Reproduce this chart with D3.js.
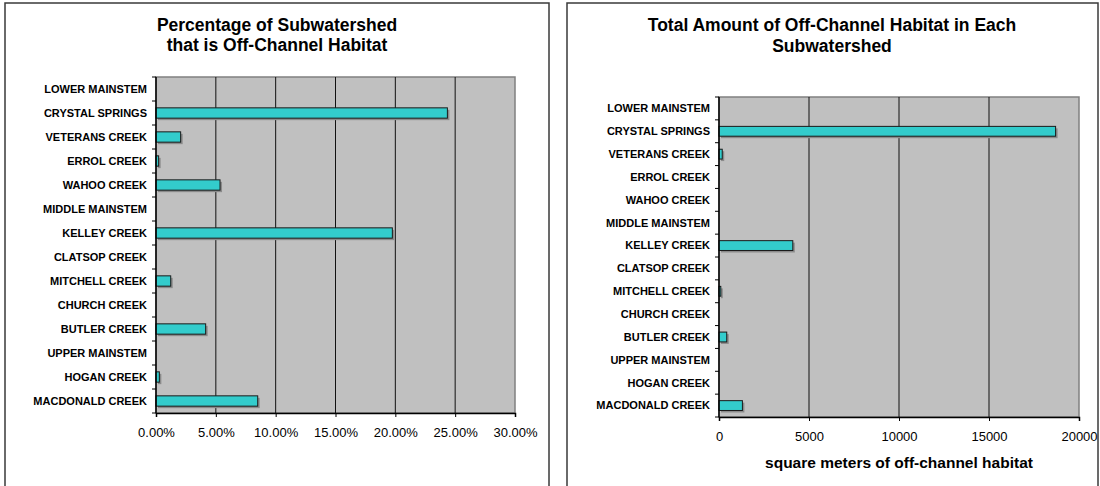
<!DOCTYPE html>
<html>
<head>
<meta charset="utf-8">
<script src="https://cdn.jsdelivr.net/npm/d3@7"></script>
<style>
  html, body { margin: 0; padding: 0; background: #fff; }
  svg { display: block; font-family: "Liberation Sans", Arial, sans-serif; }
</style>
</head>
<body>
<svg id="chart" width="1100" height="486"></svg>
<script>
// ---- data ----
const categories = [
  "LOWER MAINSTEM", "CRYSTAL SPRINGS", "VETERANS CREEK", "ERROL CREEK",
  "WAHOO CREEK", "MIDDLE MAINSTEM", "KELLEY CREEK", "CLATSOP CREEK",
  "MITCHELL CREEK", "CHURCH CREEK", "BUTLER CREEK", "UPPER MAINSTEM",
  "HOGAN CREEK", "MACDONALD CREEK"
];
// percent of subwatershed that is off-channel habitat (fraction)
const percentValues = [0, 0.2435, 0.0206, 0.0022, 0.0535, 0, 0.1975, 0, 0.0123, 0, 0.0415, 0, 0.0028, 0.085];
// square meters of off-channel habitat
const areaValues = [0, 18700, 180, 0, 0, 0, 4100, 0, 100, 0, 430, 0, 0, 1300];

const percentTicks = [0, 0.05, 0.10, 0.15, 0.20, 0.25, 0.30];
const areaTicks = [0, 5000, 10000, 15000, 20000];

const leftTitle = ["Percentage of Subwatershed", "that is Off-Channel Habitat"];
const rightTitle = ["Total Amount of Off-Channel Habitat in Each", "Subwatershed"];
const rightAxisTitle = "square meters of off-channel habitat";

// ---- drawing ----
const svg = d3.select("#chart");

function drawPanel(cfg) {
  const g = svg.append("g");
  // outer frame
  g.append("rect")
    .attr("x", cfg.frame[0]).attr("y", cfg.frame[1])
    .attr("width", cfg.frame[2]).attr("height", cfg.frame[3])
    .attr("fill", "#fff").attr("stroke", "#3a3a3a").attr("stroke-width", 1.5);

  // title
  const t = g.append("text")
    .attr("text-anchor", "middle")
    .attr("font-weight", "bold")
    .attr("font-size", cfg.titleSize)
    .attr("fill", "#000");
  cfg.title.forEach((line, i) => {
    t.append("tspan").attr("x", cfg.titleX).attr("y", cfg.titleY[i]).text(line);
  });

  const x = d3.scaleLinear().domain(cfg.domain).range([cfg.left, cfg.right]);
  const y = d3.scaleBand().domain(categories).range([cfg.top, cfg.bottom]).paddingInner(0.57).paddingOuter(0.285);
  const yEdges = d3.scaleBand().domain(categories).range([cfg.top, cfg.bottom]);

  // plot background
  g.append("rect")
    .attr("x", cfg.left).attr("y", cfg.top)
    .attr("width", cfg.right - cfg.left).attr("height", cfg.bottom - cfg.top)
    .attr("fill", "#c0c0c0").attr("stroke", "#808080").attr("stroke-width", 1.5);

  // gridlines
  g.append("g").selectAll("line")
    .data(cfg.ticks.slice(1, -1))
    .join("line")
    .attr("x1", d => x(d)).attr("x2", d => x(d))
    .attr("y1", cfg.top).attr("y2", cfg.bottom)
    .attr("stroke", "#111").attr("stroke-width", 1);

  // bar shadows
  const data = categories.map((c, i) => ({ c, v: cfg.values[i] })).filter(d => d.v > 0);
  g.append("g").selectAll("rect")
    .data(data)
    .join("rect")
    .attr("x", x(0) + 2)
    .attr("y", d => y(d.c) + 2)
    .attr("width", d => x(d.v) - x(0))
    .attr("height", y.bandwidth())
    .attr("fill", "#8a8a8a");
  // bars
  g.append("g").selectAll("rect")
    .data(data)
    .join("rect")
    .attr("x", x(0))
    .attr("y", d => y(d.c))
    .attr("width", d => x(d.v) - x(0))
    .attr("height", y.bandwidth())
    .attr("fill", "#33cccc")
    .attr("stroke", "#1a1a1a").attr("stroke-width", 1);

  // x axis
  const xAxis = d3.axisBottom(x).tickValues(cfg.ticks).tickFormat(cfg.format).tickSize(4).tickPadding(11);
  const xa = g.append("g").attr("transform", `translate(0,${cfg.bottom})`).call(xAxis);
  xa.select(".domain").attr("stroke", "#000").attr("stroke-width", 1.5);
  xa.selectAll(".tick line").attr("stroke", "#000");
  xa.selectAll(".tick text")
    .attr("font-family", "Liberation Sans, Arial, sans-serif")
    .attr("font-size", 13).attr("fill", "#000");

  // y axis: category labels and boundary ticks
  g.append("line")
    .attr("x1", cfg.left).attr("x2", cfg.left)
    .attr("y1", cfg.top).attr("y2", cfg.bottom)
    .attr("stroke", "#000").attr("stroke-width", 1.5);
  const edges = categories.map(c => yEdges(c)).concat([cfg.bottom]);
  g.append("g").selectAll("line")
    .data(edges)
    .join("line")
    .attr("x1", cfg.left - 4).attr("x2", cfg.left)
    .attr("y1", d => d).attr("y2", d => d)
    .attr("stroke", "#000");
  g.append("g").selectAll("text")
    .data(categories)
    .join("text")
    .attr("x", cfg.left - 9)
    .attr("y", d => yEdges(d) + yEdges.bandwidth() / 2)
    .attr("dy", "0.35em")
    .attr("text-anchor", "end")
    .attr("font-weight", "bold")
    .attr("font-size", 11)
    .attr("fill", "#000")
    .text(d => d);

  if (cfg.axisTitle) {
    g.append("text")
      .attr("x", (cfg.left + cfg.right) / 2)
      .attr("y", cfg.axisTitleY)
      .attr("text-anchor", "middle")
      .attr("font-weight", "bold")
      .attr("font-size", 15.5)
      .attr("fill", "#000")
      .text(cfg.axisTitle);
  }
}

drawPanel({
  frame: [5, 3, 544, 500],
  title: leftTitle, titleX: 277, titleY: [31, 51], titleSize: 17.5,
  left: 156, right: 515, top: 77, bottom: 413,
  domain: [0, 0.30], ticks: percentTicks, format: d3.format(".2%"),
  values: percentValues
});

drawPanel({
  frame: [567, 3, 531, 500],
  title: rightTitle, titleX: 832, titleY: [31, 52], titleSize: 17.5,
  left: 719, right: 1079, top: 97, bottom: 417,
  domain: [0, 20000], ticks: areaTicks, format: d3.format("d"),
  values: areaValues,
  axisTitle: rightAxisTitle, axisTitleY: 468
});
</script>
</body>
</html>
